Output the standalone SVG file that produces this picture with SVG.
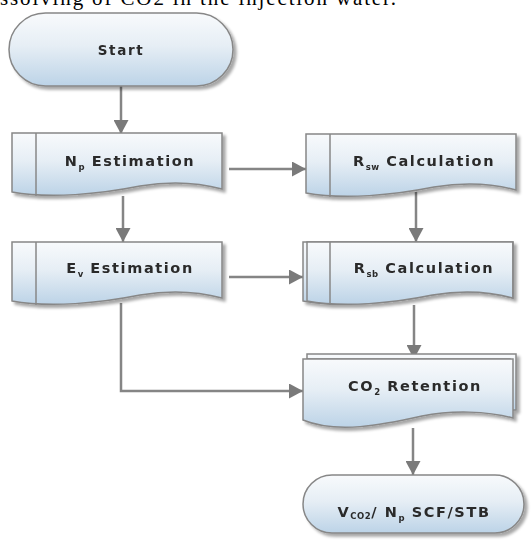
<svg xmlns="http://www.w3.org/2000/svg" xmlns:xlink="http://www.w3.org/1999/xlink" width="532" height="547" viewBox="0 0 532 547">
<style>
.shape{fill:url(#g);stroke:#878787;stroke-width:1.5}
.bar{stroke:#878787;stroke-width:1.5;fill:none}
.lbl{font-family:"DejaVu Sans",sans-serif;font-weight:bold;font-size:14.5px;letter-spacing:1.6px;fill:#2a2a2a;text-anchor:middle}
.sub{font-size:8.5px;letter-spacing:0.5px}
.conn{stroke:#858585;stroke-width:2.5;fill:none}
</style>
<defs>
<linearGradient id="g" x1="0" y1="0" x2="0" y2="1">
<stop offset="0" stop-color="#f8fafc"/>
<stop offset="0.45" stop-color="#e6eef5"/>
<stop offset="1" stop-color="#bcd3e7"/>
</linearGradient>
<filter id="sh" x="-10%" y="-10%" width="130%" height="140%">
<feGaussianBlur in="SourceAlpha" stdDeviation="1.5"/>
<feOffset dx="3" dy="3" result="b"/>
<feComponentTransfer><feFuncA type="linear" slope="0.35"/></feComponentTransfer>
<feMerge><feMergeNode/><feMergeNode in="SourceGraphic"/></feMerge>
</filter>
<path id="doc" d="M0,0 H210 V56 C188,50 158,48 128,53 C88,61 38,66 0,59 Z"/>
<marker id="ah" markerUnits="userSpaceOnUse" markerWidth="15" markerHeight="15" refX="14" refY="7.5" orient="auto">
<path d="M0,0 L14,7.5 L0,15 Z" fill="#7a7a7a"/>
</marker>
</defs>
<rect width="532" height="547" fill="#fff"/>
<text x="0" y="5" font-family="Liberation Serif, serif" font-size="21" fill="#000" textLength="396">ssolving of CO2 in the injection water.</text>

<g id="connectors">
<line class="conn" x1="121" y1="86" x2="121" y2="134" marker-end="url(#ah)"/>
<line class="conn" x1="123" y1="196" x2="123" y2="242" marker-end="url(#ah)"/>
<line class="conn" x1="229" y1="169" x2="306" y2="169" marker-end="url(#ah)"/>
<line class="conn" x1="416" y1="192" x2="416" y2="242" marker-end="url(#ah)"/>
<line class="conn" x1="229" y1="277" x2="303" y2="277" marker-end="url(#ah)"/>
<polyline class="conn" points="121,303 121,391 303,391" marker-end="url(#ah)"/>
<line class="conn" x1="414" y1="305" x2="414" y2="359" marker-end="url(#ah)"/>
<line class="conn" x1="413" y1="428" x2="413" y2="475" marker-end="url(#ah)"/>
</g>

<g id="start" filter="url(#sh)">
<rect class="shape" x="9" y="13" width="224" height="73" rx="36.5"/>
<text class="lbl" x="121" y="55" style="font-size:13.5px">Start</text>
</g>

<g id="np" filter="url(#sh)">
<use xlink:href="#doc" class="shape" transform="translate(12,133)"/>
<line class="bar" x1="36" y1="133" x2="36" y2="196"/>
<text class="lbl" x="130" y="166">N<tspan class="sub" dy="4">p</tspan><tspan dy="-4"> Estimation</tspan></text>
</g>

<g id="ev" filter="url(#sh)">
<use xlink:href="#doc" class="shape" transform="translate(12,242)"/>
<line class="bar" x1="36" y1="242" x2="36" y2="305"/>
<text class="lbl" x="130" y="273">E<tspan class="sub" dy="4">v</tspan><tspan dy="-4"> Estimation</tspan></text>
</g>

<g id="rsw" filter="url(#sh)">
<use xlink:href="#doc" class="shape" transform="translate(306,134)"/>
<line class="bar" x1="330" y1="134" x2="330" y2="197"/>
<text class="lbl" x="424" y="166">R<tspan class="sub" dy="4">sw</tspan><tspan dy="-4"> Calculation</tspan></text>
</g>

<g id="rsb" filter="url(#sh)">
<use xlink:href="#doc" class="shape" transform="translate(303,242)"/>
<use xlink:href="#doc" class="shape" transform="translate(307,242) scale(0.98,1)"/>
<line class="bar" x1="330" y1="242" x2="330" y2="305"/>
<text class="lbl" x="424" y="273">R<tspan class="sub" dy="4">sb</tspan><tspan dy="-4"> Calculation</tspan></text>
</g>

<g id="co2" filter="url(#sh)">
<path class="shape" d="M307,354 H516 V410 H510 V359 H307 Z"/>
<path class="shape" d="M303,359 H513 V418 C487,411 452,410 422,416 C382,425 337,434 303,420 Z"/>
<text class="lbl" x="415" y="391">CO<tspan class="sub" dy="4">2</tspan><tspan dy="-4"> Retention</tspan></text>
</g>

<g id="end" filter="url(#sh)">
<rect class="shape" x="303" y="475" width="221" height="58" rx="29"/>
<text class="lbl" x="414" y="517">V<tspan class="sub" dy="2">CO2</tspan><tspan dy="-2">/ N</tspan><tspan class="sub" dy="4">p</tspan><tspan dy="-4"> SCF/STB</tspan></text>
</g>
</svg>
